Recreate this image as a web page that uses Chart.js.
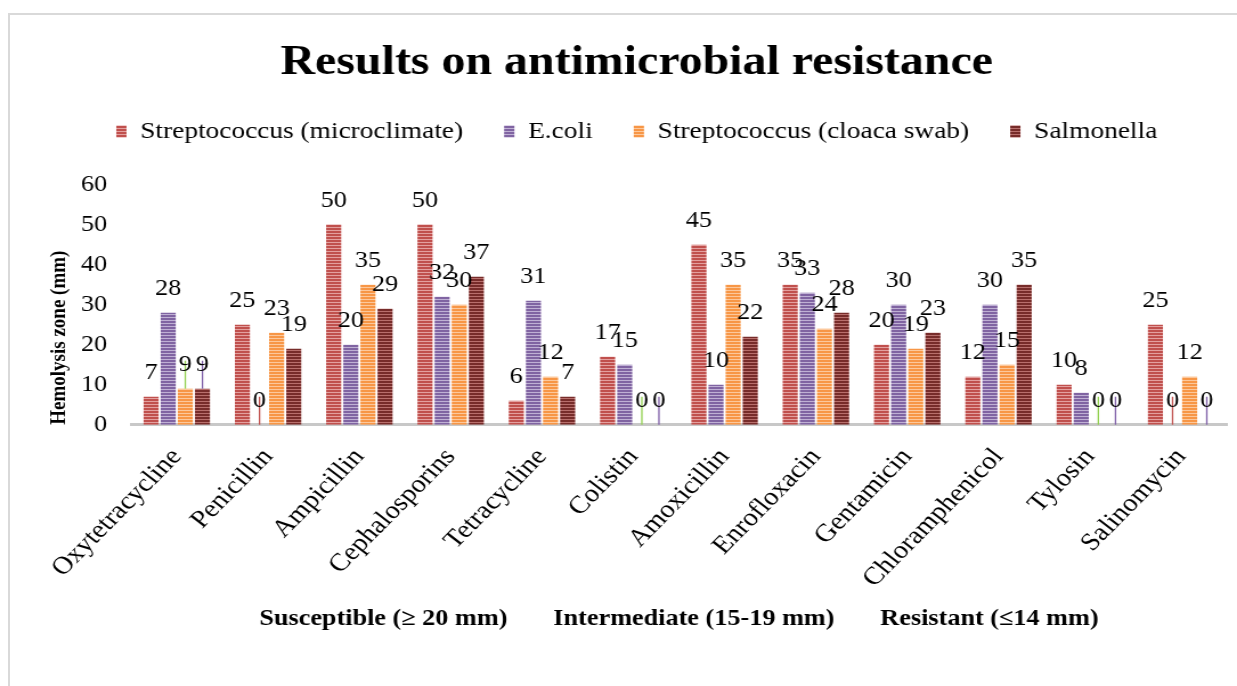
<!DOCTYPE html>
<html>
<head>
    <meta charset="utf-8">
    <title>Results on antimicrobial resistance</title>
    <script src="https://cdn.jsdelivr.net/npm/chart.js"></script>
    <style>
        body { margin: 0; background: #fff; overflow: hidden; }
        .frame {
            position: absolute; left: 8px; top: 13px;
            width: 1300px; height: 800px;
            border: 2px solid #d9d9d9;
        }
        /* the original picture is a bit wider than tall, so the canvas is stretched sideways */
        #graph { position: absolute; left: 0; top: 0; width: 1237px; height: 686px; }
    </style>
</head>
<body>
    <div class="frame"></div>
    <canvas id="graph" width="1085" height="686" style="width:1237px;height:686px"></canvas>
    <script>
        const drugs = ['Oxytetracycline', 'Penicillin', 'Ampicillin', 'Cephalosporins', 'Tetracycline', 'Colistin',
            'Amoxicillin', 'Enrofloxacin', 'Gentamicin', 'Chloramphenicol', 'Tylosin', 'Salinomycin'];
        const strepMicro = [7, 25, 50, 50, 6, 17, 45, 35, 20, 12, 10, 25];
        const ecoli = [28, 0, 20, 32, 31, 15, 10, 33, 30, 30, 8, 0];
        const strepCloaca = [9, 23, 35, 30, 12, 0, 35, 24, 19, 15, 0, 12];
        const salmonella = [9, 19, 29, 37, 7, 0, 22, 28, 23, 35, 0, 0];
        const yTicks = [0, 10, 20, 30, 40, 50, 60];

        const serif = '"Liberation Serif", "Times New Roman", serif';
        const gap = '\u00a0'.repeat(7);

        // horizontal stripe fill like the excel one
        function stripes(dark, light) {
            const p = document.createElement('canvas');
            p.width = 4; p.height = 3;
            const g = p.getContext('2d');
            g.fillStyle = dark; g.fillRect(0, 0, 4, 3);
            g.fillStyle = light; g.fillRect(0, 2, 4, 1);
            return g.createPattern(p, 'repeat');
        }

        // [dataset, index, colour] : the thin label leader lines
        const leaders = [[2, 0, '#92d050'], [3, 0, '#7f5fa8'], [1, 1, '#c0504d'], [2, 5, '#92d050'], [3, 5, '#7f5fa8'],
            [2, 10, '#92d050'], [3, 10, '#7f5fa8'], [1, 11, '#c0504d'], [3, 11, '#7f5fa8']];

        const valueLabels = {
            id: 'valueLabels',
            afterDatasetsDraw(chart) {
                const ctx = chart.ctx;
                ctx.save();
                ctx.lineWidth = 1.3;
                leaders.forEach(([d, i, c]) => {
                    const bar = chart.getDatasetMeta(d).data[i];
                    ctx.strokeStyle = c;
                    ctx.beginPath();
                    ctx.moveTo(bar.x, bar.y);
                    ctx.lineTo(bar.x, bar.y - 28);
                    ctx.stroke();
                });
                ctx.fillStyle = '#000';
                ctx.font = '23px ' + serif;
                ctx.textAlign = 'center';
                ctx.textBaseline = 'alphabetic';
                chart.data.datasets.forEach((ds, d) => {
                    chart.getDatasetMeta(d).data.forEach((bar, i) => {
                        ctx.fillText(ds.data[i], bar.x, bar.y - 18);
                    });
                });
                ctx.restore();
            }
        };

        const ctx = document.getElementById('graph').getContext('2d');
        new Chart(ctx, {
            type: 'bar',
            data: {
                labels: drugs,
                datasets: [
                    { label: 'Streptococcus (microclimate)', data: strepMicro, backgroundColor: stripes('#c0504d', '#e3a09f') },
                    { label: 'E.coli', data: ecoli, backgroundColor: stripes('#8064a2', '#bfb0d4') },
                    { label: 'Streptococcus (cloaca swab)', data: strepCloaca, backgroundColor: stripes('#f79646', '#fcc89c') },
                    { label: 'Salmonella', data: salmonella, backgroundColor: stripes('#772c2a', '#b86f6c') }
                ]
            },
            options: {
                responsive: false,
                animation: false,
                layout: { padding: { left: 41, right: 9, top: 20, bottom: 49 } },
                datasets: { bar: { categoryPercentage: 0.75, barPercentage: 0.88 } },
                plugins: {
                    title: {
                        display: true,
                        text: 'Results on antimicrobial resistance',
                        color: '#000',
                        font: { family: serif, size: 42, weight: 'bold' },
                        padding: { top: 18, bottom: -5 }
                    },
                    // empty subtitle only used as a spacer under the legend
                    subtitle: {
                        display: true,
                        text: '',
                        weight: 500,
                        font: { size: 1 },
                        padding: { top: 30, bottom: 0 }
                    },
                    legend: {
                        labels: {
                            color: '#000',
                            font: { family: serif, size: 24 },
                            boxWidth: 9, boxHeight: 12,
                            padding: 36
                        }
                    },
                    tooltip: { enabled: false }
                },
                scales: {
                    x: {
                        grid: { display: false, drawTicks: false },
                        border: { color: '#c8c8c8', width: 3 },
                        ticks: {
                            color: '#000', font: { family: serif, size: 25 },
                            minRotation: 49, maxRotation: 49, autoSkip: false, padding: 18
                        },
                        title: {
                            display: true,
                            text: 'Susceptible (\u2265 20 mm)' + gap + 'Intermediate (15-19 mm)' + gap + 'Resistant (\u226414 mm)',
                            color: '#000',
                            font: { family: serif, size: 23, weight: 'bold' },
                            padding: { top: -6, bottom: 4 }
                        }
                    },
                    y: {
                        min: 0, max: 60,
                        grid: { display: false, drawTicks: false },
                        border: { display: false },
                        afterBuildTicks: s => { s.ticks = yTicks.map(v => ({ value: v })); },
                        afterFit: s => { s.width = 74; },
                        ticks: { color: '#000', font: { family: serif, size: 23 }, padding: 21, autoSkip: false },
                        title: {
                            display: true,
                            text: 'Hemolysis zone (mm)',
                            align: 'start',
                            color: '#000',
                            font: { family: serif, size: 19, weight: 'bold' },
                            padding: { top: 0, bottom: 7 }
                        }
                    }
                }
            },
            plugins: [valueLabels]
        });
    </script>
</body>
</html>
